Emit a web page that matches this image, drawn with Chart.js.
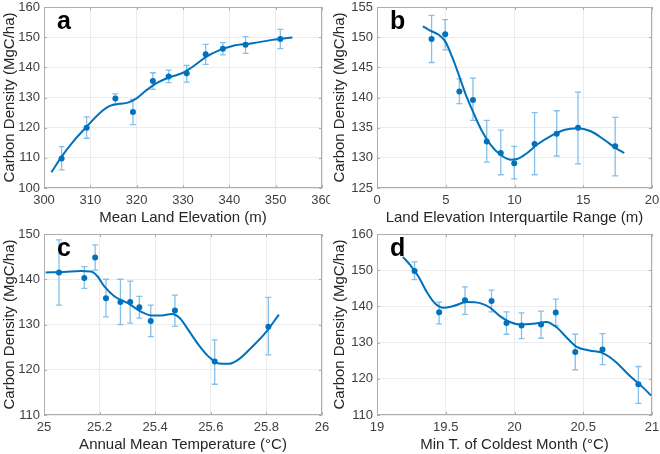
<!DOCTYPE html>
<html lang="en">
<head>
<meta charset="UTF-8">
<script src="https://cdn.jsdelivr.net/npm/chart.js@4.4.1/dist/chart.umd.min.js"></script>
<style>
    body { margin: 0; background: #fff; }
    .painel { position: absolute; width: 330px; height: 227px; }
</style>
<title>Carbon Density</title>
</head>
<body>
<div class="painel" style="left:0;top:0"><canvas id="chartA" width="330" height="227"></canvas></div>
<div class="painel" style="left:330px;top:0"><canvas id="chartB" width="330" height="227"></canvas></div>
<div class="painel" style="left:0;top:227px"><canvas id="chartC" width="330" height="227"></canvas></div>
<div class="painel" style="left:330px;top:227px"><canvas id="chartD" width="330" height="227"></canvas></div>
<script>
// a - elevação media
var elevX  = [303.8, 309.2, 315.4, 319.2, 323.5, 326.9, 330.8, 334.9, 338.6, 343.5, 351.0];
var elevY  = [109.8, 120.0, 129.7, 125.2, 135.5, 137.0, 138.0, 144.3, 146.2, 147.5, 149.4];
var elevLo = [106.0, 116.5, 127.8, 121.0, 132.7, 134.9, 135.1, 141.0, 144.1, 144.6, 146.2];
var elevHi = [113.7, 123.6, 131.2, 129.4, 138.2, 139.1, 140.6, 147.6, 148.2, 150.2, 152.6];
var elevFitX = [301.6, 303.8, 306.3, 309.2, 312.0, 314.2, 316.3, 318.1, 319.9, 322.0, 324.2, 327.1, 330.0, 332.1, 335.0, 337.9, 340.7, 345.0, 349.3, 353.6];
var elevFitY = [105.2, 110.4, 115.4, 120.3, 124.8, 127.2, 127.9, 128.3, 129.6, 132.3, 134.7, 136.7, 138.2, 140.2, 143.5, 145.7, 147.1, 148.0, 149.1, 149.9];
var elevTicks = [300, 310, 320, 330, 340, 350, 360];
var carbonTicksA = [100, 110, 120, 130, 140, 150, 160];

// b - amplitude interquartil
var iqrX  = [3.97, 4.96, 5.99, 6.98, 7.98, 9.0, 9.98, 11.46, 13.07, 14.62, 17.32];
var iqrY  = [149.7, 150.5, 141.0, 139.6, 132.7, 130.8, 129.1, 132.3, 134.0, 135.0, 131.9];
var iqrLo = [145.8, 147.9, 139.0, 136.2, 129.3, 127.2, 126.5, 127.2, 130.3, 129.0, 127.0];
var iqrHi = [153.6, 152.9, 143.1, 143.2, 136.2, 134.6, 131.9, 137.5, 137.8, 140.9, 136.7];
var iqrFitX = [3.33, 3.87, 4.48, 4.96, 5.45, 5.94, 6.42, 7.03, 7.64, 8.25, 8.98, 9.71, 10.19, 10.92, 11.65, 12.63, 13.6, 14.57, 15.55, 16.52, 17.37, 17.98];
var iqrFitY = [151.8, 151.1, 150.4, 149.3, 146.8, 143.8, 140.7, 137.4, 134.4, 132.2, 130.5, 129.7, 129.8, 130.8, 132.2, 133.6, 134.6, 134.9, 134.4, 133.0, 131.6, 130.8];
var iqrTicks = [0, 5, 10, 15, 20];
var carbonTicksB = [125, 130, 135, 140, 145, 150, 155];

// c - temperatura media anual
var tempX  = [25.054, 25.145, 25.184, 25.223, 25.275, 25.310, 25.343, 25.384, 25.471, 25.614, 25.807];
var tempY  = [141.5, 140.3, 144.8, 135.8, 135.0, 135.0, 133.8, 130.8, 133.1, 121.8, 129.5];
var tempLo = [134.3, 138.0, 142.0, 131.7, 130.0, 130.3, 131.4, 127.3, 129.6, 116.8, 123.3];
var tempHi = [148.7, 142.8, 147.6, 140.0, 140.0, 139.6, 136.2, 134.3, 136.5, 126.6, 136.0];
var tempFitX = [25.006, 25.072, 25.133, 25.169, 25.193, 25.217, 25.254, 25.302, 25.350, 25.386, 25.423, 25.459, 25.489, 25.519, 25.556, 25.592, 25.628, 25.664, 25.700, 25.749, 25.797, 25.845];
var tempFitY = [141.5, 141.6, 141.8, 141.7, 140.6, 138.4, 136.2, 134.7, 132.8, 132.0, 132.0, 132.3, 131.4, 128.8, 125.5, 122.9, 121.4, 121.3, 122.3, 125.1, 128.2, 132.2];
var tempTicks = [25, 25.2, 25.4, 25.6, 25.8, 26];
var carbonTicksC = [110, 120, 130, 140, 150];

// d - minima do mes mais frio
var minTX  = [19.273, 19.452, 19.640, 19.833, 19.942, 20.051, 20.193, 20.300, 20.442, 20.640, 20.901];
var minTY  = [149.8, 138.4, 141.7, 141.5, 135.4, 134.7, 135.0, 138.3, 127.4, 128.1, 118.5];
var minTLo = [147.4, 135.2, 137.8, 138.5, 132.3, 131.1, 131.2, 134.7, 122.5, 123.9, 113.2];
var minTHi = [152.3, 141.2, 145.4, 144.5, 138.5, 138.2, 138.7, 142.0, 132.3, 132.5, 123.4];
var minTFitX = [19.188, 19.242, 19.302, 19.362, 19.423, 19.483, 19.556, 19.652, 19.749, 19.821, 19.894, 19.966, 20.039, 20.135, 20.232, 20.304, 20.377, 20.449, 20.546, 20.643, 20.739, 20.836, 20.932, 20.993];
var minTFitY = [153.7, 151.4, 148.2, 144.0, 140.8, 139.6, 140.1, 141.2, 140.9, 139.7, 137.3, 135.7, 135.0, 135.2, 135.7, 134.3, 131.5, 128.9, 127.8, 127.1, 124.6, 120.9, 117.7, 115.4];
var minTTicks = [19, 19.5, 20, 20.5, 21];
var carbonTicksD = [110, 120, 130, 140, 150, 160];

var azul = "#0072BD";
var azulClaro = "#86bfe9";
var cinzaBorda = "#adadad";
var fonte = "'Liberation Sans', Arial, sans-serif";

function juntar(xs, ys) {
    return xs.map(function (x, i) { return { x: x, y: ys[i] }; });
}

// barras de erro, caixa e letra do painel
var extras = {
    id: "extras",
    beforeDatasetsDraw: function (chart, args, opts) {
        var ctx = chart.ctx, xs = chart.scales.x, ys = chart.scales.y, a = chart.chartArea;
        ctx.save();
        // caixa
        ctx.strokeStyle = cinzaBorda;
        ctx.lineWidth = 1;
        ctx.strokeRect(a.left + 0.5, a.top + 0.5, a.right - a.left - 1, a.bottom - a.top - 1);
        // marcas internas
        ctx.beginPath();
        xs.ticks.forEach(function (t) {
            var px = Math.round(xs.getPixelForValue(t.value)) + 0.5;
            ctx.moveTo(px, a.bottom); ctx.lineTo(px, a.bottom - 3);
            ctx.moveTo(px, a.top); ctx.lineTo(px, a.top + 3);
        });
        ys.ticks.forEach(function (t) {
            var py = Math.round(ys.getPixelForValue(t.value)) + 0.5;
            ctx.moveTo(a.left, py); ctx.lineTo(a.left + 3, py);
            ctx.moveTo(a.right, py); ctx.lineTo(a.right - 3, py);
        });
        ctx.stroke();
        // barras de erro
        ctx.strokeStyle = azulClaro;
        ctx.lineWidth = 1.3;
        ctx.beginPath();
        opts.xv.forEach(function (x, i) {
            var px = xs.getPixelForValue(x);
            var p1 = ys.getPixelForValue(opts.lo[i]);
            var p2 = ys.getPixelForValue(opts.hi[i]);
            ctx.moveTo(px, p1); ctx.lineTo(px, p2);
            ctx.moveTo(px - 3, p1); ctx.lineTo(px + 3, p1);
            ctx.moveTo(px - 3, p2); ctx.lineTo(px + 3, p2);
        });
        ctx.stroke();
        ctx.restore();
    },
    afterDraw: function (chart, args, opts) {
        var ctx = chart.ctx, a = chart.chartArea;
        ctx.save();
        ctx.fillStyle = "#000";
        ctx.font = "bold 25px " + fonte;
        ctx.textBaseline = "alphabetic";
        ctx.fillText(opts.letra, a.left + 13, a.top + 22);
        ctx.restore();
    }
};

function formatar(v) {
    return String(Number(v.toFixed(2)));
}

function painel(id, letra, larguraY, px, py, lo, hi, fx, fy, ticksX, ticksY, tituloX) {
    new Chart(document.getElementById(id), {
        type: "scatter",
        data: {
            datasets: [
                {
                    data: juntar(px, py),
                    backgroundColor: azul,
                    borderWidth: 0,
                    pointRadius: 3,
                },
                {
                    type: "line",
                    data: juntar(fx, fy),
                    borderColor: azul,
                    borderWidth: 2,
                    pointRadius: 0,
                    fill: false,
                    showLine: true,
                    cubicInterpolationMode: "monotone",
                }
            ]
        },
        options: {
            responsive: false,
            animation: false,
            devicePixelRatio: 1,
            layout: { padding: { top: 7, right: 8, left: 0, bottom: 0 } },
            plugins: {
                legend: { display: false },
                tooltip: { enabled: false },
                extras: { letra: letra, xv: px, lo: lo, hi: hi }
            },
            scales: {
                x: {
                    type: "linear",
                    min: ticksX[0],
                    max: ticksX[ticksX.length - 1],
                    afterBuildTicks: function (s) { s.ticks = ticksX.map(function (v) { return { value: v }; }); },
                    afterFit: function (s) { s.height = 39; s.paddingLeft = 0; s.paddingRight = 0; },
                    grid: { color: "#ececec", drawTicks: false },
                    border: { display: false },
                    ticks: { padding: 5, color: "#404040", font: { family: fonte, size: 13 }, maxRotation: 0, autoSkip: false, callback: formatar },
                    title: { display: true, text: tituloX, color: "#262626", font: { family: fonte, size: 15 }, padding: { top: 0, bottom: 0 } }
                },
                y: {
                    type: "linear",
                    min: ticksY[0],
                    max: ticksY[ticksY.length - 1],
                    afterBuildTicks: function (s) { s.ticks = ticksY.map(function (v) { return { value: v }; }); },
                    afterFit: function (s) { s.width = larguraY; s.paddingTop = 0; s.paddingBottom = 0; },
                    grid: { color: "#ececec", drawTicks: false },
                    border: { display: false },
                    ticks: { padding: 4, color: "#404040", font: { family: fonte, size: 13 }, autoSkip: false, callback: formatar },
                    title: { display: true, text: "Carbon Density (MgC/ha)", color: "#262626", font: { family: fonte, size: 15 }, padding: { top: 1, bottom: 0 } }
                }
            }
        },
        plugins: [extras]
    });
}

painel("chartA", "a", 44, elevX, elevY, elevLo, elevHi, elevFitX, elevFitY, elevTicks, carbonTicksA, "Mean Land Elevation (m)");
painel("chartB", "b", 47, iqrX, iqrY, iqrLo, iqrHi, iqrFitX, iqrFitY, iqrTicks, carbonTicksB, "Land Elevation Interquartile Range (m)");
painel("chartC", "c", 44, tempX, tempY, tempLo, tempHi, tempFitX, tempFitY, tempTicks, carbonTicksC, "Annual Mean Temperature (°C)");
painel("chartD", "d", 47, minTX, minTY, minTLo, minTHi, minTFitX, minTFitY, minTTicks, carbonTicksD, "Min T. of Coldest Month (°C)");
</script>
</body>
</html>
